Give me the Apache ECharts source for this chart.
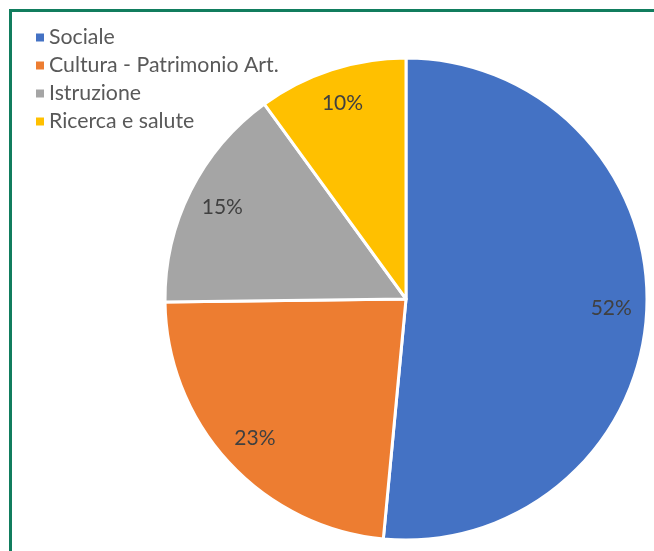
<!DOCTYPE html>
<html><head><meta charset="utf-8">
<script src="https://cdn.jsdelivr.net/npm/echarts@6/dist/echarts.min.js"></script>
<style>html,body{margin:0;padding:0;background:#fff}#c{width:654px;height:551px}</style>
</head><body><div id="c"></div>
<script>
var categories = ['Sociale', 'Cultura - Patrimonio Art.', 'Istruzione', 'Ricerca e salute'];
var values = [51.5, 23.3, 15.2, 10.0];
var colors = ['#4472C4', '#ED7D31', '#A5A5A5', '#FFC000'];

var data = categories.map(function (n, i) { return { name: n, value: values[i], itemStyle: { color: colors[i] } }; });
var font = 'Lato, "Open Sans", sans-serif';
var chart = echarts.init(document.getElementById('c'));
chart.setOption({
  animation: false,
  graphic: [{
    type: 'rect', silent: true,
    shape: { x: 10.5, y: 10.5, width: 700, height: 600 },
    style: { fill: 'none', stroke: '#117d5e', lineWidth: 3 }
  }],
  legend: {
    orient: 'vertical', left: 29, top: 22,
    icon: 'rect', itemWidth: 10, itemHeight: 10, itemGap: 7,
    data: categories,
    textStyle: { fontFamily: font, fontSize: 21.3, color: '#595959', padding: [0, 0, 0, -1] }
  },
  series: [{
    type: 'pie', center: [406, 299], radius: [0, 241],
    startAngle: 90, clockwise: true,
    itemStyle: { borderColor: '#fff', borderWidth: 3 },
    label: { show: false }, labelLine: { show: false },
    data: data
  }, {
    type: 'pie', center: [406, 299], radius: [164, 241],
    startAngle: 90, clockwise: true, silent: true,
    itemStyle: { color: 'rgba(0,0,0,0)', borderWidth: 0 },
    label: {
      show: true, position: 'inside', fontFamily: font, fontSize: 21, color: '#404040',
      formatter: function (p) { return Math.round(p.percent) + '%'; }
    },
    labelLine: { show: false },
    data: categories.map(function (n, i) { return { name: n, value: values[i], itemStyle: { color: 'rgba(0,0,0,0)' } }; })
  }]
});
</script></body></html>
